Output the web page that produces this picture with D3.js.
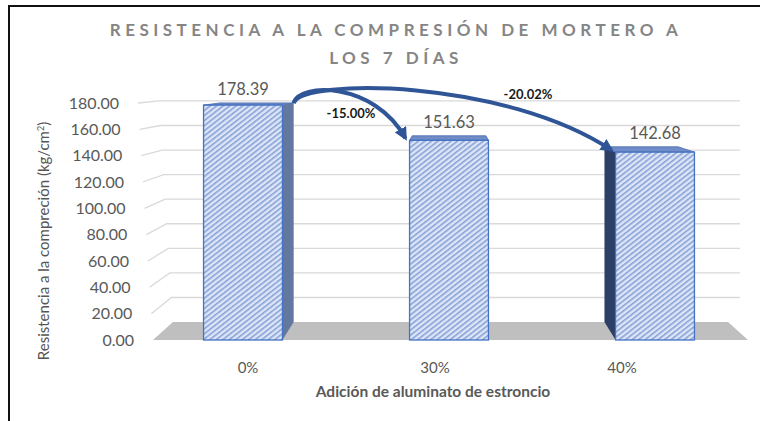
<!DOCTYPE html>
<html>
<head>
<meta charset="utf-8">
<script src="https://cdnjs.cloudflare.com/ajax/libs/d3/7.8.5/d3.min.js"></script>
<style>
  html, body { margin: 0; padding: 0; background: #fff; }
  svg text { font-family: Lato, "Open Sans", sans-serif; }
</style>
</head>
<body>
<div id="chart"></div>
<script>
// values
var categories = ["0%", "30%", "40%"];
var values = [178.39, 151.63, 142.68];
var yTicks = [0, 20, 40, 60, 80, 100, 120, 140, 160, 180];
var changeLabels = ["-15.00%", "-20.02%"];
var titleLines = ["RESISTENCIA A LA COMPRESIÓN DE MORTERO A", "LOS 7 DÍAS"];

var width = 760, height = 421;

var svg = d3.select("#chart").append("svg")
        .attr("width", width)
        .attr("height", height);

// perspective of the 3d plot area: points go back toward a vanishing point
var vp = {x: 450, y: 72};
var depth = 0.067;
function back(p) {
    return [p[0] + depth * (vp.x - p[0]), p[1] + depth * (vp.y - p[1])];
}

var y = d3.scaleLinear().domain([0, 180]).range([340, 103]);
var x = d3.scaleBand().domain(categories)
        .range([140, 758])
        .paddingInner(0.617)
        .paddingOuter(0.3085);
var xLabel = d3.scalePoint().domain(categories).range([248, 622]);
// front edge of the side wall leans a bit
var wallX = d3.scaleLinear().domain([y(0), y(180)]).range([153, 138]);

var defs = svg.append("defs");
var hatch = defs.append("pattern")
        .attr("id", "hatch")
        .attr("patternUnits", "userSpaceOnUse")
        .attr("width", 4)
        .attr("height", 4)
        .attr("patternTransform", "rotate(52)");
hatch.append("rect").attr("width", 4).attr("height", 4).attr("fill", "#dde6f6");
hatch.append("line")
        .attr("x1", 0.8).attr("y1", 0).attr("x2", 0.8).attr("y2", 4)
        .attr("stroke", "#7393d2").attr("stroke-width", 1.3);

defs.append("marker")
        .attr("id", "head")
        .attr("viewBox", "0 0 10 10")
        .attr("refX", 8).attr("refY", 5)
        .attr("markerWidth", 13).attr("markerHeight", 13)
        .attr("markerUnits", "userSpaceOnUse")
        .attr("orient", "auto")
        .append("path")
        .attr("d", "M0,0 L10,5 L0,10 Z")
        .attr("fill", "#2f5597");

// frame (only top and left edges show)
svg.append("path")
        .attr("d", "M9," + height + " L9,6 L" + width + ",6")
        .attr("fill", "none")
        .attr("stroke", "#111")
        .attr("stroke-width", 2);

// title
svg.selectAll(".title")
        .data(titleLines)
        .enter().append("text")
        .attr("class", "title")
        .attr("x", 396)
        .attr("y", function (d, i) { return 36 + i * 28; })
        .attr("text-anchor", "middle")
        .style("font-size", "17px")
        .style("font-weight", "bold")
        .style("letter-spacing", "4.5px")
        .attr("fill", "#858585")
        .text(function (d) { return d; });

// floor
var f0 = [153, y(0)], f1 = [748, y(0)];
svg.append("polygon")
        .attr("points", [f0, f1, back(f1), back(f0)].join(" "))
        .attr("fill", "#bfbfbf");

// gridlines: side wall segment then back wall
svg.selectAll(".grid")
        .data(yTicks.filter(function (d) { return d > 0; }))
        .enter().append("path")
        .attr("class", "grid")
        .attr("d", function (d) {
            var f = [wallX(y(d)), y(d)];
            var b = back(f);
            return "M" + f + " L" + b + " L740," + b[1];
        })
        .attr("fill", "none")
        .attr("stroke", "#d9d9d9")
        .attr("stroke-width", 1.3);

svg.selectAll(".ytick")
        .data(yTicks)
        .enter().append("text")
        .attr("class", "ytick")
        .attr("x", function (d) { return wallX(y(d)) - 19; })
        .attr("y", function (d) { return y(d); })
        .attr("dy", "0.35em")
        .attr("text-anchor", "end")
        .style("font-size", "16px")
        .attr("fill", "#595959")
        .text(function (d) { return d.toFixed(2); });

// bars
var bw = x.bandwidth();
var bars = svg.selectAll(".bar")
        .data(categories.map(function (c, i) { return {cat: c, val: values[i]}; }))
        .enter().append("g")
        .attr("class", "bar");

bars.append("polygon")
        .attr("points", function (d) {
            var x0 = x(d.cat), x1 = x0 + bw, yt = y(d.val), yb = y(0);
            var cx = x0 + bw / 2;
            if (cx < vp.x - 20) {
                return [[x1, yt], back([x1, yt]), back([x1, yb]), [x1, yb]].join(" ");
            } else if (cx > vp.x + 20) {
                return [[x0, yt], back([x0, yt]), back([x0, yb]), [x0, yb]].join(" ");
            }
            return "";
        })
        .attr("fill", function (d) {
            return x(d.cat) + bw / 2 < vp.x ? "#63779f" : "#2c3f66";
        });

bars.append("polygon")
        .attr("points", function (d) {
            var x0 = x(d.cat), x1 = x0 + bw, yt = y(d.val);
            return [[x0, yt], [x1, yt], back([x1, yt]), back([x0, yt])].join(" ");
        })
        .attr("fill", "#6f8cc8")
        .attr("stroke", "#4a6aad")
        .attr("stroke-width", 0.8);

bars.append("rect")
        .attr("x", function (d) { return x(d.cat); })
        .attr("y", function (d) { return y(d.val); })
        .attr("width", bw)
        .attr("height", function (d) { return y(0) - y(d.val); })
        .attr("fill", "url(#hatch)")
        .attr("stroke", "#4472c4")
        .attr("stroke-width", 1.3);

bars.append("text")
        .attr("x", function (d) { return x(d.cat) + bw / 2; })
        .attr("y", function (d) { return back([0, y(d.val)])[1] - 8; })
        .attr("text-anchor", "middle")
        .style("font-size", "16.5px")
        .attr("fill", "#595959")
        .text(function (d) { return d.val.toFixed(2); });

// category labels
svg.selectAll(".xtick")
        .data(categories)
        .enter().append("text")
        .attr("class", "xtick")
        .attr("x", function (d) { return xLabel(d); })
        .attr("y", 373)
        .attr("text-anchor", "middle")
        .style("font-size", "15px")
        .attr("fill", "#595959")
        .text(function (d) { return d; });

svg.append("text")
        .attr("x", 433)
        .attr("y", 397)
        .attr("text-anchor", "middle")
        .style("font-size", "15.5px")
        .style("font-weight", "bold")
        .attr("fill", "#595959")
        .text("Adición de aluminato de estroncio");

svg.append("text")
        .attr("transform", "translate(49,241) rotate(-90)")
        .attr("text-anchor", "middle")
        .style("font-size", "15px")
        .attr("fill", "#555")
        .html("Resistencia a la compreción (kg/cm<tspan dy='-5' style='font-size:9px'>2</tspan><tspan dy='5'>)</tspan>");

// change arrows from the first bar
var start = back([x(categories[0]) + bw, y(values[0])]);
var arrows = [
    {target: 1, c1: [start[0] + 5, start[1] - 20], c2: [start[0] + 80, start[1] - 22], label: changeLabels[0], lx: 351, ly: 118},
    {target: 2, c1: [start[0] + 10, start[1] - 25], c2: [start[0] + 210, start[1] - 24], label: changeLabels[1], lx: 528, ly: 99}
];

svg.selectAll(".arrow")
        .data(arrows)
        .enter().append("path")
        .attr("class", "arrow")
        .attr("d", function (d) {
            var end = [x(categories[d.target]) - 4, y(values[d.target]) - 2];
            return "M" + start + " C" + d.c1 + " " + d.c2 + " " + end;
        })
        .attr("fill", "none")
        .attr("stroke", "#2f5597")
        .attr("stroke-width", 4)
        .attr("marker-end", "url(#head)");

svg.selectAll(".change")
        .data(arrows)
        .enter().append("text")
        .attr("class", "change")
        .attr("x", function (d) { return d.lx; })
        .attr("y", function (d) { return d.ly; })
        .attr("text-anchor", "middle")
        .style("font-size", "13px")
        .style("font-weight", "bold")
        .attr("fill", "#1a1a1a")
        .text(function (d) { return d.label; });
</script>
</body>
</html>
